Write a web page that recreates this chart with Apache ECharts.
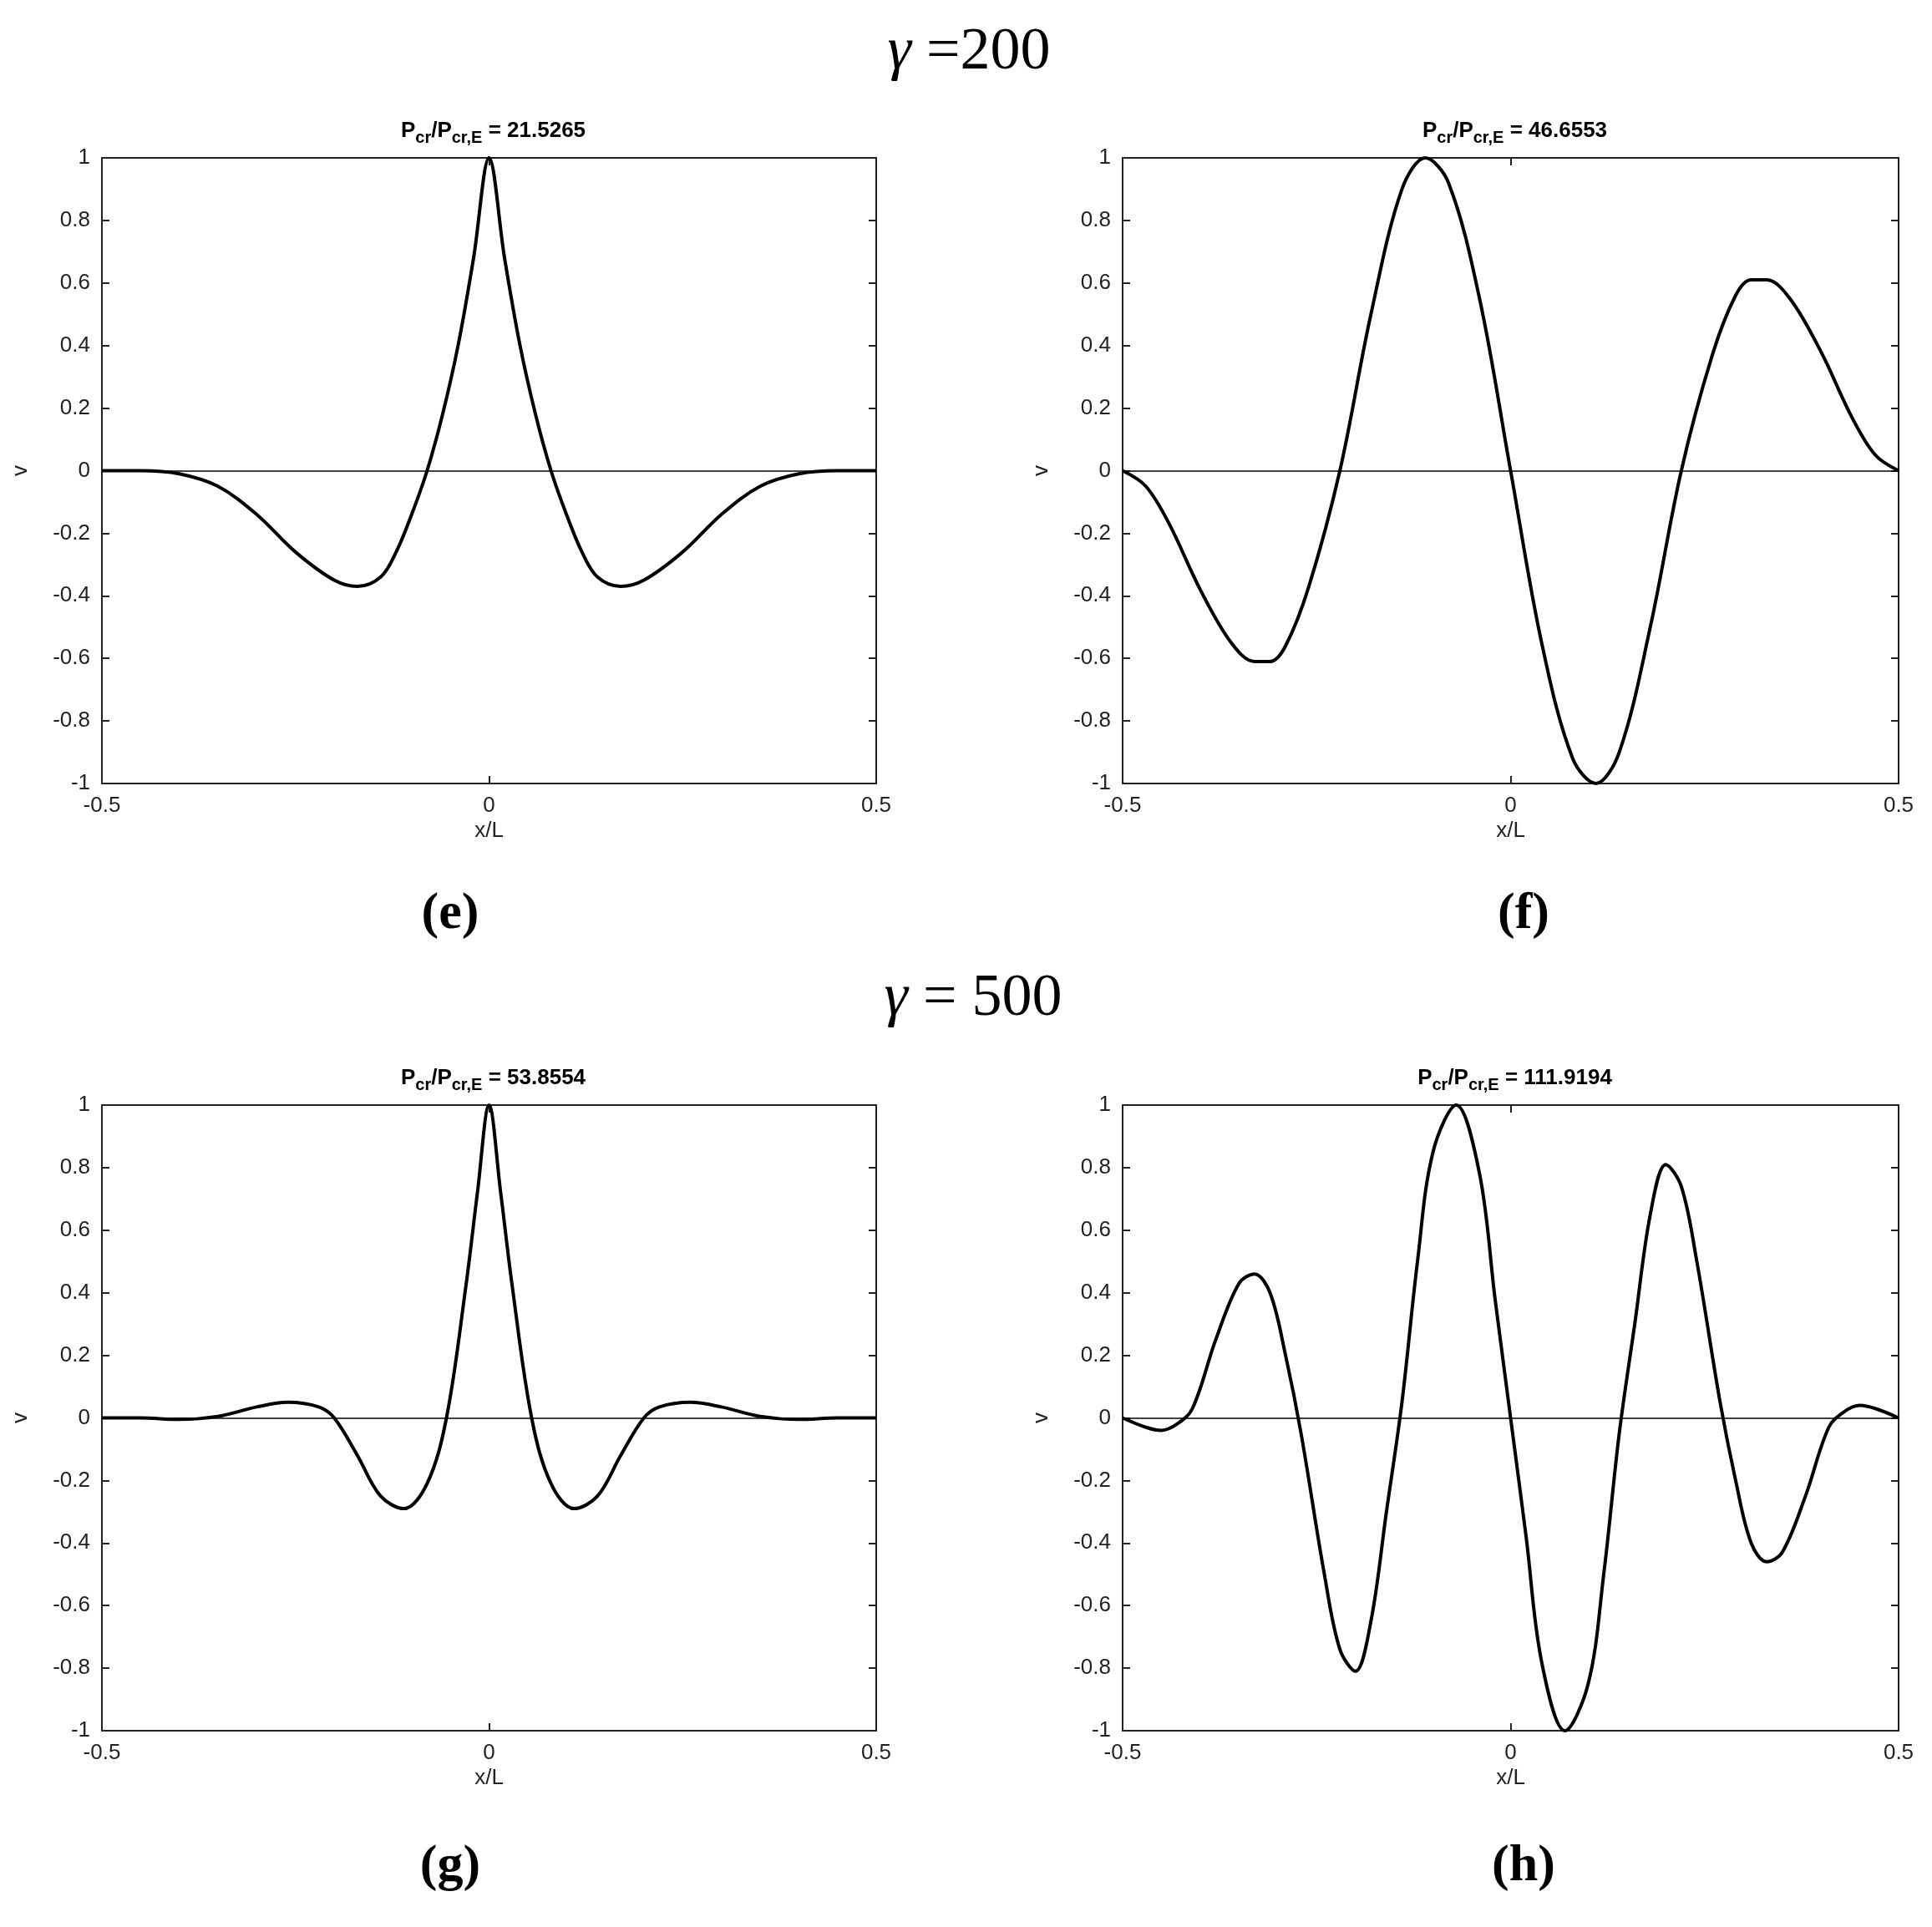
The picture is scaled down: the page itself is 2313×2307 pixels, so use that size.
<!DOCTYPE html>
<html><head><meta charset="utf-8">
<script src="https://cdn.jsdelivr.net/npm/echarts@6/dist/echarts.min.js"></script>
<style>html,body{margin:0;background:#fff}#c{width:2313px;height:2307px}</style>
</head><body><div id="c"></div>
<script>
// panel (e): gamma=200, mode 1
const xE = [-0.5,-0.45,-0.4,-0.35,-0.3,-0.25,-0.2,-0.17,-0.14,-0.12,-0.1,-0.08,-0.06,-0.04,-0.02,0,0.02,0.04,0.06,0.08,0.1,0.12,0.14,0.17,0.2,0.25,0.3,0.35,0.4,0.45,0.5];
const yE = [0,0,-0.01,-0.05,-0.14,-0.26,-0.35,-0.37,-0.34,-0.26,-0.14,0,0.18,0.4,0.68,1,0.68,0.4,0.18,0,-0.14,-0.26,-0.34,-0.37,-0.35,-0.26,-0.14,-0.05,-0.01,0,0];
// panel (f): gamma=200, mode 2
const xF = [-0.5,-0.47,-0.44,-0.4,-0.36,-0.33,-0.31,-0.29,-0.26,-0.22,-0.18,-0.14,-0.11,-0.08,-0.04,0,0.04,0.08,0.11,0.14,0.18,0.22,0.26,0.29,0.31,0.33,0.36,0.4,0.44,0.47,0.5];
const yF = [0,-0.05,-0.17,-0.38,-0.55,-0.61,-0.61,-0.56,-0.37,0,0.5,0.9,1,0.92,0.55,0,-0.55,-0.92,-1,-0.9,-0.5,0,0.37,0.56,0.61,0.61,0.55,0.38,0.17,0.05,0];
// panel (g): gamma=500, mode 1
const xG = [-0.5,-0.45,-0.4,-0.35,-0.3,-0.26,-0.22,-0.2,-0.17,-0.14,-0.11,-0.08,-0.055,-0.03,-0.015,0,0.015,0.03,0.055,0.08,0.11,0.14,0.17,0.2,0.22,0.26,0.3,0.35,0.4,0.45,0.5];
const yG = [0,0,-0.005,0.005,0.035,0.05,0.035,0,-0.12,-0.25,-0.29,-0.21,0,0.42,0.72,1,0.72,0.42,0,-0.21,-0.29,-0.25,-0.12,0,0.035,0.05,0.035,0.005,-0.005,0,0];
// panel (h): gamma=500, mode 2
const xH = [-0.5,-0.47,-0.45,-0.43,-0.41,-0.38,-0.35,-0.33,-0.31,-0.29,-0.27,-0.24,-0.22,-0.2,-0.18,-0.16,-0.14,-0.12,-0.1,-0.07,-0.04,-0.02,0,0.02,0.04,0.07,0.1,0.12,0.14,0.16,0.18,0.2,0.22,0.24,0.27,0.29,0.31,0.33,0.35,0.38,0.41,0.43,0.45,0.47,0.5];
const yH = [0,-0.03,-0.04,-0.02,0.03,0.25,0.43,0.46,0.4,0.2,-0.05,-0.5,-0.74,-0.81,-0.65,-0.3,0.05,0.5,0.85,1,0.78,0.38,0,-0.38,-0.78,-1,-0.85,-0.5,-0.05,0.3,0.65,0.81,0.74,0.5,0.05,-0.2,-0.4,-0.46,-0.43,-0.25,-0.03,0.02,0.04,0.03,0];
const titlesP = ['21.5265','46.6553','53.8554','111.9194'];
const panelLetters = ['(e)','(f)','(g)','(h)'];
const xTicks = [-0.5,0,0.5];

const grids = [
  {left:122,width:927,top:189,height:749},
  {left:1344,width:929,top:189,height:749},
  {left:122,width:927,top:1323,height:749},
  {left:1344,width:929,top:1323,height:749}
];
const panels = [[xE,yE],[xF,yF],[xG,yG],[xH,yH]];
const font = 'Liberation Sans';
const xAxis=[], yAxis=[], series=[], title=[];
grids.forEach((g,i)=>{
  const base = {gridIndex:i,type:'value',splitLine:{show:false},
    axisLine:{show:true,onZero:false,lineStyle:{color:'#222',width:2}},
    axisTick:{show:true,inside:true,length:9,lineStyle:{color:'#222',width:2}}};
  xAxis.push(Object.assign({},base,{position:'bottom',min:-0.5,max:0.5,interval:0.5,
    name:'x/L',nameLocation:'middle',nameGap:44,nameTextStyle:{fontFamily:font,fontSize:26,color:'#222'},
    axisLabel:{fontFamily:font,fontSize:26,color:'#222',margin:14}}));
  xAxis.push(Object.assign({},base,{position:'top',min:-0.5,max:0.5,interval:0.5,axisLabel:{show:false}}));
  yAxis.push(Object.assign({},base,{position:'left',min:-1,max:1,interval:0.2,
    name:'v',nameLocation:'middle',nameGap:84,nameTextStyle:{fontFamily:font,fontSize:26,color:'#222'},
    axisLabel:{fontFamily:font,fontSize:26,color:'#222',margin:14,formatter:v=>String(Math.round(v*10)/10)}}));
  yAxis.push(Object.assign({},base,{position:'right',min:-1,max:1,interval:0.2,axisLabel:{show:false}}));
  const [xs,ys]=panels[i];
  series.push({type:'line',xAxisIndex:2*i,yAxisIndex:2*i,data:xs.map((x,k)=>[x,ys[k]]),
    smooth:0.35,showSymbol:false,lineStyle:{color:'#000',width:4},
    markLine:{silent:true,symbol:'none',label:{show:false},lineStyle:{color:'#000',width:1.5,type:'solid'},data:[{yAxis:0}]}});
  title.push({text:'P{s|cr}/P{s|cr,E} = '+titlesP[i],left:g.left+g.width/2,top:g.top-55,textAlign:'center',
    textStyle:{fontFamily:font,fontSize:26,fontWeight:'bold',color:'#000',
      rich:{s:{fontFamily:font,fontSize:20,fontWeight:'bold',color:'#000',padding:[16,0,0,0]}}}});
  title.push({text:panelLetters[i],left:(i%2?1819:534),top:(i<2?1099:2239)-40,textAlign:'center',
    textStyle:{fontFamily:'Liberation Serif',fontSize:62,fontWeight:'bold',color:'#000'}});
});
title.push({text:'{g|γ} =200',left:1155,top:22,textAlign:'center',textStyle:{fontFamily:'Liberation Serif',fontSize:72,fontWeight:'normal',color:'#000',rich:{g:{fontFamily:'Liberation Serif',fontStyle:'italic',fontSize:72}}}});
title.push({text:'{g|γ} = 500',left:1160,top:1155,textAlign:'center',textStyle:{fontFamily:'Liberation Serif',fontSize:72,fontWeight:'normal',color:'#000',rich:{g:{fontFamily:'Liberation Serif',fontStyle:'italic',fontSize:72}}}});
const chart = echarts.init(document.getElementById('c'));
chart.setOption({backgroundColor:'#fff',animation:false,title,grid:grids,xAxis,yAxis,series});
</script></body></html>
